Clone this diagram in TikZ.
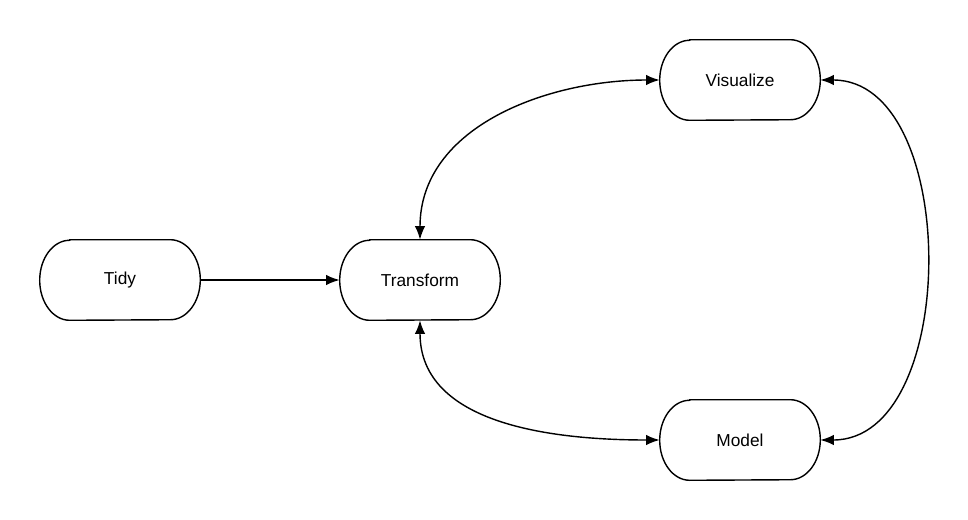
\documentclass[tikz,border=0pt]{standalone}
\usepackage{fontspec}
\setmainfont{Liberation Sans}
\usetikzlibrary{arrows.meta}

\tikzset{
    stage/.style={minimum width=4cm, minimum height=2cm, font=\fontsize{12.3}{14}\selectfont},
    stageline/.style={line width=1pt},
    flow/.style={line width=1pt, -{Latex[length=3.4mm,width=2.6mm]}},
    twoway/.style={line width=1pt, {Latex[length=3.4mm,width=2.6mm]}-{Latex[length=3.4mm,width=2.6mm]}}
}
% outline with elliptical ends round a stage node
\newcommand{\stagebox}[1]{%
    \draw[stageline] ([xshift=0.75cm]#1.north west) -- ([xshift=-0.75cm]#1.north east)
        arc[start angle=90, end angle=-90, x radius=0.75cm, y radius=1cm]
        -- ([xshift=0.75cm]#1.south west)
        arc[start angle=270, end angle=90, x radius=0.75cm, y radius=1cm] -- cycle;}

\begin{document}
\begin{tikzpicture}[x=0.025cm, y=-0.025cm]
    % frame
    \useasboundingbox (0,0) rectangle (968,520);
    % stages
    \node[stage] (tidy) at (120,280) {Tidy};
    \node[stage] (transform) at (420,280) {Transform};
    \node[stage] (visualize) at (740,80) {Visualize};
    \node[stage] (model) at (740,440) {Model};
    \stagebox{tidy}
    \stagebox{transform}
    \stagebox{visualize}
    \stagebox{model}
    % arrows
    \draw[flow] (tidy.east) -- (transform.west);
    \draw[twoway] (transform.north) to[out=90, in=180] (visualize.west);
    \draw[twoway] (transform.south) to[out=-90, in=180] (model.west);
    \draw[twoway] (visualize.east) to[out=0, in=0, looseness=1.0] (model.east);
\end{tikzpicture}
\end{document}
